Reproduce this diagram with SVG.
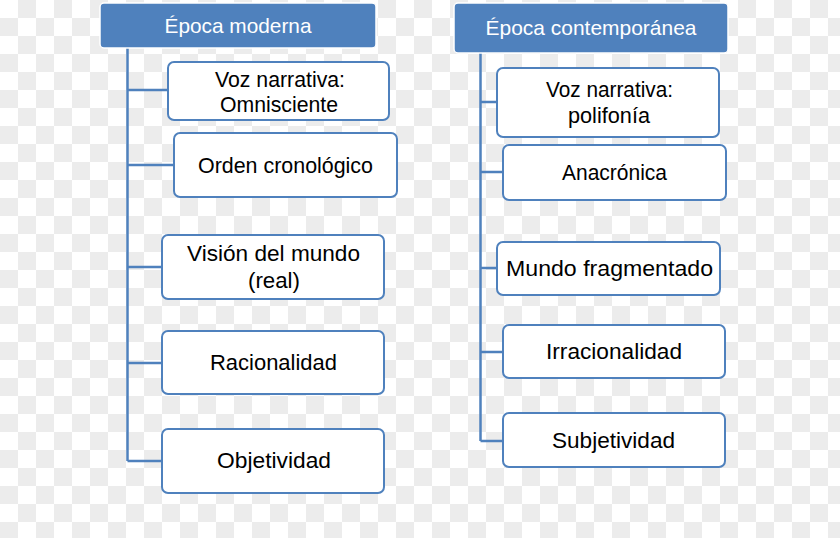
<svg xmlns="http://www.w3.org/2000/svg" width="840" height="538" viewBox="0 0 840 538">
  <defs>
    <pattern id="checker" x="0" y="0" width="36" height="36" patternUnits="userSpaceOnUse">
      <rect x="0" y="0" width="36" height="36" fill="#ffffff"/>
      <rect x="18" y="0" width="18" height="18" fill="#ececec"/>
      <rect x="0" y="18" width="18" height="18" fill="#ececec"/>
    </pattern>
  </defs>
  <style>
    .hdr { fill: #4f81bd; stroke: #ffffff; stroke-width: 1.5; }
    .hdrtxt { fill: #ffffff; font-family: "Liberation Sans", Arial, sans-serif; font-size: 21px; text-anchor: middle; }
    .box { fill: #ffffff; stroke: #4f81bd; stroke-width: 2; }
    .txt { fill: #000000; font-family: "Liberation Sans", Arial, sans-serif; font-size: 22px; text-anchor: middle; }
    .conn { fill: none; stroke: #4f81bd; stroke-width: 2.5; }
  </style>
  <rect x="0" y="0" width="840" height="538" fill="url(#checker)"/>

  <g id="connectors">
    <path class="conn" d="M127.5,48 V461 M127.5,90 H168 M127.5,165 H174 M127.5,267 H162 M127.5,363 H162 M127.5,461 H162"/>
    <path class="conn" d="M480.5,52 V441 M480.5,102 H497 M480.5,172 H503 M480.5,268 H497 M480.5,352 H503 M480.5,441 H503"/>
  </g>

  <g id="hdr-moderna">
    <rect class="hdr" x="100" y="3" width="276" height="45" rx="4"/>
    <text class="hdrtxt" x="238" y="33" textLength="147" lengthAdjust="spacingAndGlyphs">Época moderna</text>
  </g>
  <g id="hdr-contemporanea">
    <rect class="hdr" x="454" y="3" width="274" height="50" rx="4"/>
    <text class="hdrtxt" x="591" y="35" textLength="211" lengthAdjust="spacingAndGlyphs">Época contemporánea</text>
  </g>

  <g id="m-voz">
    <rect class="box" x="168" y="62" width="221" height="58" rx="6"/>
    <text class="txt" x="280" y="87" textLength="130" lengthAdjust="spacingAndGlyphs">Voz narrativa:</text>
    <text class="txt" x="279" y="112" textLength="118" lengthAdjust="spacingAndGlyphs">Omnisciente</text>
  </g>
  <g id="m-orden">
    <rect class="box" x="174" y="133" width="223" height="64" rx="6"/>
    <text class="txt" x="285.5" y="173" textLength="175" lengthAdjust="spacingAndGlyphs">Orden cronológico</text>
  </g>
  <g id="m-vision">
    <rect class="box" x="162" y="235" width="222" height="64" rx="6"/>
    <text class="txt" x="273.5" y="261" textLength="173" lengthAdjust="spacingAndGlyphs">Visión del mundo</text>
    <text class="txt" x="274" y="288" textLength="52" lengthAdjust="spacingAndGlyphs">(real)</text>
  </g>
  <g id="m-racionalidad">
    <rect class="box" x="162" y="331" width="222" height="63" rx="6"/>
    <text class="txt" x="273.5" y="370" textLength="127" lengthAdjust="spacingAndGlyphs">Racionalidad</text>
  </g>
  <g id="m-objetividad">
    <rect class="box" x="162" y="429" width="222" height="64" rx="6"/>
    <text class="txt" x="274" y="468" textLength="114" lengthAdjust="spacingAndGlyphs">Objetividad</text>
  </g>

  <g id="c-voz">
    <rect class="box" x="497" y="68" width="222" height="69" rx="6"/>
    <text class="txt" x="609.5" y="97" textLength="127" lengthAdjust="spacingAndGlyphs">Voz narrativa:</text>
    <text class="txt" x="609" y="123" textLength="82" lengthAdjust="spacingAndGlyphs">polifonía</text>
  </g>
  <g id="c-anacronica">
    <rect class="box" x="503" y="145" width="223" height="55" rx="6"/>
    <text class="txt" x="614.5" y="180" textLength="105" lengthAdjust="spacingAndGlyphs">Anacrónica</text>
  </g>
  <g id="c-mundo">
    <rect class="box" x="497" y="242" width="223" height="53" rx="6"/>
    <text class="txt" x="609.5" y="276" textLength="207" lengthAdjust="spacingAndGlyphs">Mundo fragmentado</text>
  </g>
  <g id="c-irracionalidad">
    <rect class="box" x="503" y="325" width="222" height="53" rx="6"/>
    <text class="txt" x="614" y="359" textLength="136" lengthAdjust="spacingAndGlyphs">Irracionalidad</text>
  </g>
  <g id="c-subjetividad">
    <rect class="box" x="503" y="413" width="222" height="54" rx="6"/>
    <text class="txt" x="613.5" y="448" textLength="123" lengthAdjust="spacingAndGlyphs">Subjetividad</text>
  </g>
</svg>
